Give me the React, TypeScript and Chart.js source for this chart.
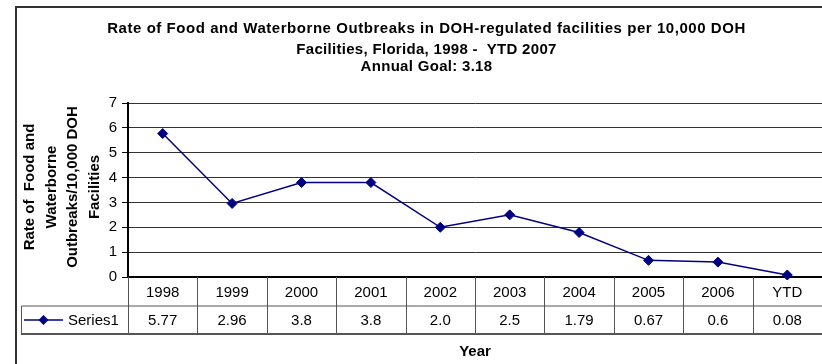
import React, { useEffect, useRef } from "react";
import { Chart, registerables } from "chart.js";

Chart.register(...registerables);

const categories = ["1998", "1999", "2000", "2001", "2002", "2003", "2004", "2005", "2006", "YTD"];
const seriesValues = [5.77, 2.96, 3.8, 3.8, 2.0, 2.5, 1.79, 0.67, 0.6, 0.08];
const valueLabels = ["5.77", "2.96", "3.8", "3.8", "2.0", "2.5", "1.79", "0.67", "0.6", "0.08"];
const seriesName = "Series1";
const titleLines = [
  "Rate of Food and Waterborne Outbreaks in DOH-regulated facilities per 10,000 DOH",
  "Facilities, Florida, 1998 -  YTD 2007",
  "Annual Goal: 3.18",
];
const yTitleLines = ["Rate of  Food and", "Waterborne", "Outbreaks/10,000 DOH", "Facilities"];
const xTitle = "Year";

const FONT = '"Liberation Sans", Arial, sans-serif';
const LINE_COLOR = "#000080";

const overlayPlugin = {
  id: "overlay",
  afterDraw(chart: any) {
    const ctx = chart.ctx as any;
    const area = chart.chartArea;
    const xScale = chart.scales.x;
    ctx.save();

    // outer border
    ctx.strokeStyle = "#333333";
    ctx.lineWidth = 2;
    ctx.strokeRect(16, 7, 1000, 500);

    // title
    ctx.fillStyle = "#000";
    ctx.font = `bold 15px ${FONT}`;
    ctx.textAlign = "center";
    ctx.textBaseline = "alphabetic";
    const titleBaselines = [32.5, 54, 71];
    const letterSp = ["0.55px", "0.3px", "0.3px"];
    titleLines.forEach((t, i) => {
      ctx.letterSpacing = letterSp[i];
      ctx.fillText(t, 426.5, titleBaselines[i]);
    });
    ctx.letterSpacing = "0px";

    // y-axis title
    const yCenters = [30, 51.5, 73, 94.5];
    ctx.textBaseline = "middle";
    yTitleLines.forEach((t, i) => {
      ctx.save();
      ctx.translate(yCenters[i], 187);
      ctx.rotate(-Math.PI / 2);
      ctx.fillText(t, 0, 0);
      ctx.restore();
    });

    // data table
    const top = area.bottom;
    const row1 = top + 29;
    const row2 = top + 57;
    const n = categories.length;
    const cw = (area.right - area.left) / n;
    ctx.strokeStyle = "#555555";
    ctx.lineWidth = 1;
    ctx.beginPath();
    for (let i = 0; i <= n; i++) {
      const x = Math.round(xScale.getPixelForValue(i) - cw / 2) + 0.5;
      ctx.moveTo(x, top);
      ctx.lineTo(x, row2);
    }
    ctx.moveTo(21.5, row1);
    ctx.lineTo(area.right, row1);
    ctx.moveTo(21.5, row1);
    ctx.lineTo(21.5, row2);
    ctx.stroke();
    ctx.beginPath();
    ctx.lineWidth = 2;
    ctx.strokeStyle = "#555555";
    ctx.moveTo(21, row2);
    ctx.lineTo(area.right, row2);
    ctx.stroke();

    ctx.font = `15px ${FONT}`;
    ctx.textAlign = "center";
    ctx.textBaseline = "middle";
    categories.forEach((c, i) => {
      const x = xScale.getPixelForValue(i);
      ctx.fillText(c, x, (top + row1) / 2 + 1);
      ctx.fillText(valueLabels[i], x, (row1 + row2) / 2 + 1);
    });

    // legend key in table
    const ly = (row1 + row2) / 2;
    ctx.strokeStyle = LINE_COLOR;
    ctx.lineWidth = 1.5;
    ctx.beginPath();
    ctx.moveTo(24, ly);
    ctx.lineTo(63, ly);
    ctx.stroke();
    ctx.fillStyle = LINE_COLOR;
    ctx.beginPath();
    ctx.moveTo(43.5, ly - 5);
    ctx.lineTo(48.5, ly);
    ctx.lineTo(43.5, ly + 5);
    ctx.lineTo(38.5, ly);
    ctx.closePath();
    ctx.fill();
    ctx.fillStyle = "#000";
    ctx.textAlign = "left";
    ctx.fillText(seriesName, 68, ly + 1);

    // x-axis title
    ctx.font = `bold 15px ${FONT}`;
    ctx.textAlign = "center";
    ctx.textBaseline = "alphabetic";
    ctx.fillText(xTitle, (area.left + area.right) / 2, 356);

    ctx.restore();
  },
};

export default function App() {
  const ref = useRef<HTMLCanvasElement>(null);
  useEffect(() => {
    if (!ref.current) return;
    const chart = new Chart(ref.current, {
      type: "line",
      data: {
        labels: categories,
        datasets: [
          {
            label: seriesName,
            data: seriesValues,
            borderColor: LINE_COLOR,
            backgroundColor: LINE_COLOR,
            borderWidth: 1.5,
            pointStyle: "rectRot",
            pointRadius: 5,
            pointBackgroundColor: LINE_COLOR,
            pointBorderColor: LINE_COLOR,
            pointBorderWidth: 1,
            tension: 0,
            clip: false,
          },
        ],
      },
      options: {
        responsive: false,
        animation: false,
        devicePixelRatio: 1,
        layout: { autoPadding: false, padding: { top: 103, left: 0, right: 0, bottom: 0 } },
        plugins: { legend: { display: false }, title: { display: false }, tooltip: { enabled: false } },
        scales: {
          x: {
            type: "category",
            offset: true,
            ticks: { display: false },
            grid: { display: false },
            border: { display: true, color: "#000", width: 2 },
            afterFit: (s: any) => {
              s.height = 87;
              s.paddingRight = 0;
              s.paddingLeft = 0;
            },
          },
          y: {
            min: 0,
            max: 7,
            ticks: { stepSize: 1, color: "#000", font: { family: FONT, size: 15 }, padding: 5 },
            grid: { color: "#333333", lineWidth: 1, tickLength: 6, tickColor: "#000" },
            border: { display: true, color: "#000", width: 2 },
            afterFit: (s: any) => {
              s.width = 128;
              s.paddingTop = 0;
              s.paddingBottom = 0;
            },
          },
        },
      },
      plugins: [overlayPlugin],
    });
    return () => chart.destroy();
  }, []);
  return (
    <div style={{ position: "fixed", left: 0, top: 0, width: 822, height: 364, background: "#fff" }}>
      <canvas ref={ref} width={822} height={364} style={{ display: "block" }} />
    </div>
  );
}
